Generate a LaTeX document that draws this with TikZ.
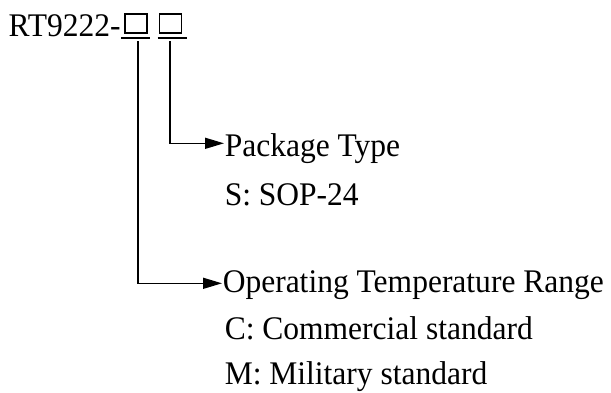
\documentclass[tikz,border=0pt]{standalone}
\usepackage{fontspec}
\setmainfont{Liberation Serif}[FakeStretch=0.955]
\usetikzlibrary{arrows.meta}

\begin{document}
\begin{tikzpicture}[x=1pt,y=1pt,line width=1.5pt]
    \tikzstyle{every node}+=[inner sep=0pt,font=\fontsize{33}{40}\selectfont]
    \tikzstyle{code}=[draw,line width=1.4pt,minimum width=22pt,minimum height=19pt]
    \tikzstyle{lead}=[-{Triangle[length=19pt,width=11pt]}]
    \useasboundingbox (0,0) rectangle (611,-392);
    \node [anchor=base west] (part) at (8,-36) {RT9222-};
    \node [code] (temp) at (136,-23.5) {};
    \node [code] (pkg) at (170.5,-23.5) {};
    \draw (121,-38) -- (150,-38);
    \draw (157.5,-38) -- (186.5,-38);
    \node [anchor=base west] (pkgtitle) at (224,-156) {Package Type};
    \node [anchor=base west] (pkgs) at (224,-205) {S: SOP-24};
    \node [anchor=base west] (temptitle) at (222,-292) {Operating Temperature Range};
    \node [anchor=base west] (tempc) at (224,-339) {C: Commercial standard};
    \node [anchor=base west] (tempm) at (224,-384) {M: Military standard};
    \coordinate (tempstart) at (138,-41);
    \coordinate (pkgstart) at (170,-41);
    \draw [lead] (pkgstart) |- (pkgtitle.west |- 0,-143.3);
    \draw [lead] (tempstart) |- (temptitle.west |- 0,-283.3);
\end{tikzpicture}
\end{document}
